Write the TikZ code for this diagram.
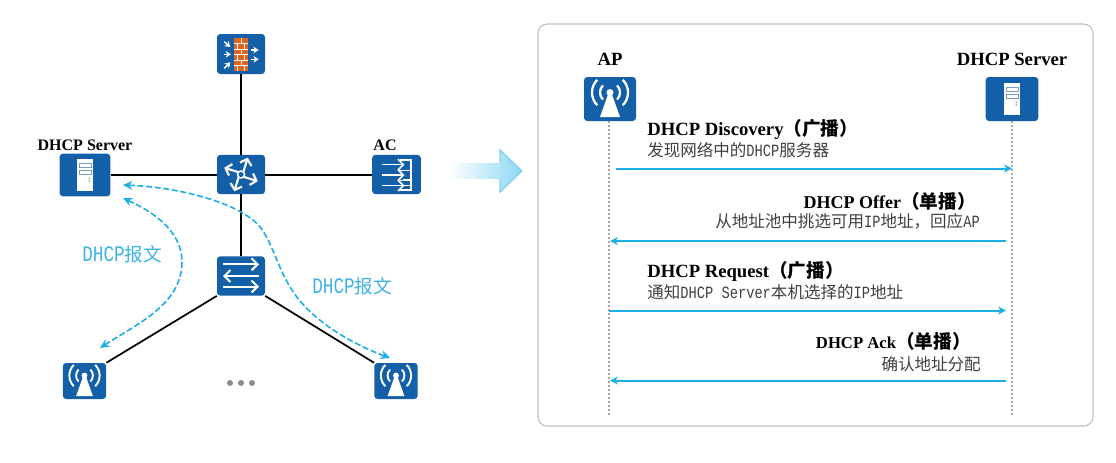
\documentclass[tikz,border=0pt]{standalone}
\usepackage{fontspec}
\usetikzlibrary{arrows.meta}
\setmainfont{Liberation Serif}
\newfontfamily\cjk{Noto Sans CJK SC}
\newfontfamily\latm{Liberation Mono}
\definecolor{devblue}{HTML}{1460A8}
\definecolor{msgblue}{HTML}{1CAEE6}
\definecolor{lblblue}{HTML}{3FB2E6}
\definecolor{brick}{HTML}{DF6420}
\newcommand{\mono}[1]{\scalebox{1}[1.25]{\latm\fontsize{10.3}{12}\selectfont #1}}
\newcommand{\monotag}[1]{\scalebox{1}[1.25]{\latm\fontsize{13.3}{14}\selectfont #1}}
\tikzset{
  dev/.style={fill=devblue,rounded corners=2.5pt,inner sep=0pt},
  link/.style={draw=black,line width=1.5pt},
  wire/.style={draw=black,line width=1.3pt},
  msg/.style={draw=msgblue,line width=1.5pt,-{Stealth[length=6pt,width=6pt]}},
  flow/.style={draw=msgblue,line width=1.2pt,dash pattern=on 4.5pt off 2pt,{Stealth[length=7pt,width=6.5pt]}-{Stealth[length=7pt,width=6.5pt]}},
  life/.style={draw=black!35,line width=1pt,dotted},
  head/.style={inner sep=0pt,font=\fontsize{14}{14}\selectfont\bfseries},
  note/.style={inner sep=0pt,text=black!75,font=\fontsize{12.4}{13}\selectfont},
  tag/.style={inner sep=0pt,text=lblblue,font=\fontsize{14}{14}\selectfont},
  glyph/.style={draw=white,line width=1.1pt}
}
\newcommand{\apglyph}[2]{
  \begin{scope}[shift={(#1)},scale=#2]
    \fill[white] (-10,18) -- (-1.5,-6) -- (1.5,-6) -- (10,18) -- cycle;
    \fill[white] (0,-6.5) circle (3.5);
    \foreach \r in {10,18}{
      \draw[glyph,line width=#2*1.7pt] (135:\r) ++(0,-6.5) arc (135:225:\r);
      \draw[glyph,line width=#2*1.7pt] (-45:\r) ++(0,-6.5) arc (-45:45:\r);
    }
  \end{scope}
}
\newcommand{\srvglyph}[2]{
  \begin{scope}[shift={(#1)},scale=#2]
    \fill[white] (-7.7,-16.3) rectangle (7.7,16.3);
    \draw[draw=devblue!60,line width=0.7pt,fill=white] (-6,-11.7) rectangle (6,-7.7);
    \draw[draw=devblue!60,line width=0.7pt,fill=white] (-6,-5) rectangle (6,-1);
    \fill[devblue!60] (4.3,3.3) circle (0.9) (4.3,6) circle (0.9);
  \end{scope}
}
\begin{document}
\begin{tikzpicture}[x=0.75pt,y=-0.75pt,>=Stealth]
  \useasboundingbox (0,0) rectangle (1116,462);

  % left network
  \node[dev,minimum width=36pt,minimum height=30pt] (fw) at (241,54) {};
  \node[dev,minimum width=38pt,minimum height=32pt] (srv) at (85,175) {};
  \node[dev,minimum width=36pt,minimum height=29.5pt] (rt) at (241,174.5) {};
  \node[dev,minimum width=36.5pt,minimum height=29.5pt] (ac) at (396.5,174.5) {};
  \node[dev,minimum width=36pt,minimum height=29.5pt] (sw) at (241,276) {};
  \node[dev,minimum width=32.5pt,minimum height=27pt] (apl) at (84.5,381) {};
  \node[dev,minimum width=32.5pt,minimum height=27pt] (apr) at (396,381) {};

  \draw[link] (fw) -- (rt);
  \draw[link] (srv.east |- rt) -- (rt);
  \draw[link] (rt) -- (ac);
  \draw[link] (rt) -- (sw);
  \draw[wire] (sw.south west) -- (apl.north east);
  \draw[wire] (sw.south east) -- (apr.north west);

  % firewall
  \begin{scope}[shift={(fw.center)}]
    \fill[brick] (-7.3,-15.7) rectangle (7.3,16.7);
    \foreach \y in {-10.3,-4.9,0.5,5.9,11.3}
      \draw[white,line width=0.5pt] (-7.3,\y) -- (7.3,\y);
    \foreach \y in {-15.7,-4.9,5.9}
      \draw[white,line width=0.5pt] (0,\y) -- (0,\y+5.4);
    \foreach \y in {-10.3,0.5,11.3}{
      \draw[white,line width=0.5pt] (-3.6,\y) -- (-3.6,\y+5.4);
      \draw[white,line width=0.5pt] (3.6,\y) -- (3.6,\y+5.4);
    }
    \draw[glyph,-{Stealth[length=4pt,width=5pt]}] (-16.7,-12.3) -- (-10.7,-7);
    \draw[glyph,-{Stealth[length=4pt,width=5pt]}] (-17.3,0.3) -- (-10,0.3);
    \draw[glyph,-{Stealth[length=4pt,width=5pt]}] (-16.7,14.3) -- (-10.7,8.3);
    \draw[glyph,-{Stealth[length=4pt,width=5pt]}] (10,-4) -- (17.7,-4);
    \draw[glyph,-{Stealth[length=4pt,width=5pt]}] (10,5.3) -- (17.7,5.3);
  \end{scope}
  \srvglyph{srv.center}{1}
  % router
  \begin{scope}[shift={(rt.center)}]
    \foreach \b in {-17,73,163,253}
      \draw[glyph,line width=1.6pt,rotate=\b,-{Straight Barb[length=4pt,width=9pt]}] (0,1.5) -- (18,1.5);
    \draw[glyph,fill=devblue] (0,0) circle (3.5);
  \end{scope}
  % access controller
  \begin{scope}[shift={(ac.center)}]
    \draw[glyph] (3,-14.5) -- (14.5,-14.5) -- (14.5,15.5) -- (2,15.5);
    \foreach \y in {-10,0.5,11}{
      \draw[glyph,line width=1.2pt,-{Straight Barb[length=4pt,width=8pt]}] (-15,\y) -- (8,\y);
      \draw[glyph,line width=0.7pt] (3,\y-5) -- (14.5,\y-5);
    }
    \draw[glyph,line width=0.7pt] (6,5) -- (14.5,5) (6,11) -- (14.5,11);
  \end{scope}
  % switch
  \begin{scope}[shift={(sw.center)}]
    \draw[glyph,line width=1.5pt,-{Straight Barb[length=4.5pt,width=9pt]}] (-18,-11.7) -- (18,-11.7);
    \draw[glyph,line width=1.5pt,-{Straight Barb[length=4.5pt,width=9pt]}] (18,0) -- (-18,0);
    \draw[glyph,line width=1.5pt,-{Straight Barb[length=4.5pt,width=9pt]}] (-18,10.5) -- (18,10.5);
  \end{scope}
  \apglyph{apl.center}{0.84}
  \apglyph{apr.center}{0.84}

  \node[inner sep=0pt,font=\fontsize{12}{12}\selectfont\bfseries] (srvlbl) at (85,145) {DHCP Server};
  \node[inner sep=0pt,font=\fontsize{12}{12}\selectfont\bfseries] (aclbl) at (385,145) {AC};

  \fill[gray!90] (230,383) circle (3) (241,383) circle (3) (252,383) circle (3);

  \coordinate (p1) at (123,185);
  \coordinate (p2) at (390,358);
  \coordinate (q1) at (123,198);
  \coordinate (q2) at (100,348);
  \draw[flow] (p1) .. controls (175,187) and (228,200) .. (253,220) .. controls (270,233) and (275,262) .. (290,287) .. controls (310,320) and (350,343) .. (p2);
  \draw[flow] (q1) .. controls (140,206) and (182,225) .. (182,262) .. controls (182,305) and (135,325) .. (q2);
  \node[tag,anchor=west] (tag1) at (82,254) {\monotag{DHCP}{\cjk 报文}};
  \node[tag,anchor=west] (tag2) at (312,286) {\monotag{DHCP}{\cjk 报文}};

  % big arrow
  \shade[left color=white,right color=msgblue!50] (450,163) -- (500,163) -- (500,150) -- (522,171) -- (500,192) -- (500,179) -- (450,179) -- cycle;
  \draw[draw=msgblue!55,line width=1pt] (500,163) -- (500,150) -- (522,171) -- (500,192) -- (500,179);

  % right panel
  \draw[draw=black!25,line width=0.8pt,rounded corners=7pt] (538,24) rectangle (1093,426);

  \node[dev,minimum width=39pt,minimum height=33pt] (apb) at (610,99) {};
  \node[dev,minimum width=39.5pt,minimum height=33pt] (srvb) at (1012,99) {};
  \apglyph{apb.center}{1}
  \srvglyph{srvb.center}{1}
  \node[head] (aplbl) at (610,59) {AP};
  \node[head] (srvblbl) at (1012,59) {DHCP Server};

  \coordinate (apend) at (609,416);
  \coordinate (srvend) at (1012,416);
  \draw[life] (apb.south -| apend) -- (apend);
  \draw[life] (srvb.south) -- (srvend);

  \coordinate (a1) at (616,168.5);
  \coordinate (b1) at (1012,168.5);
  \coordinate (a2) at (610,241);
  \coordinate (b2) at (1006,241);
  \coordinate (a3) at (609,310.5);
  \coordinate (b3) at (1006,310.5);
  \coordinate (a4) at (610,380.5);
  \coordinate (b4) at (1006,380.5);
  \draw[msg] (a1) -- (b1);
  \draw[msg] (b2) -- (a2);
  \draw[msg] (a3) -- (b3);
  \draw[msg] (b4) -- (a4);

  \node[head,anchor=west] (h1) at (647,129) {DHCP Discovery{\cjk（广播）}};
  \node[note,anchor=west] (n1) at (647,150) {{\cjk 发现网络中的}\mono{DHCP}{\cjk 服务器}};
  \node[head,anchor=east] (h2) at (976,201) {{\fontsize{13.5}{14}\selectfont DHCP Offer}{\cjk（单播）}};
  \node[note,anchor=east] (n2) at (980,221) {{\cjk 从地址池中挑选可用}\mono{IP}{\cjk 地址，回应}\mono{AP}};
  \node[head,anchor=west] (h3) at (647,271.5) {DHCP Request{\cjk（广播）}};
  \node[note,anchor=west] (n3) at (647,292) {{\cjk 通知}\mono{DHCP Server}{\cjk 本机选择的}\mono{IP}{\cjk 地址}};
  \node[head,anchor=east] (h4) at (971,341) {{\fontsize{12.5}{14}\selectfont DHCP Ack}{\cjk（单播）}};
  \node[note,anchor=east] (n4) at (981,364) {\cjk 确认地址分配};
\end{tikzpicture}
\end{document}
